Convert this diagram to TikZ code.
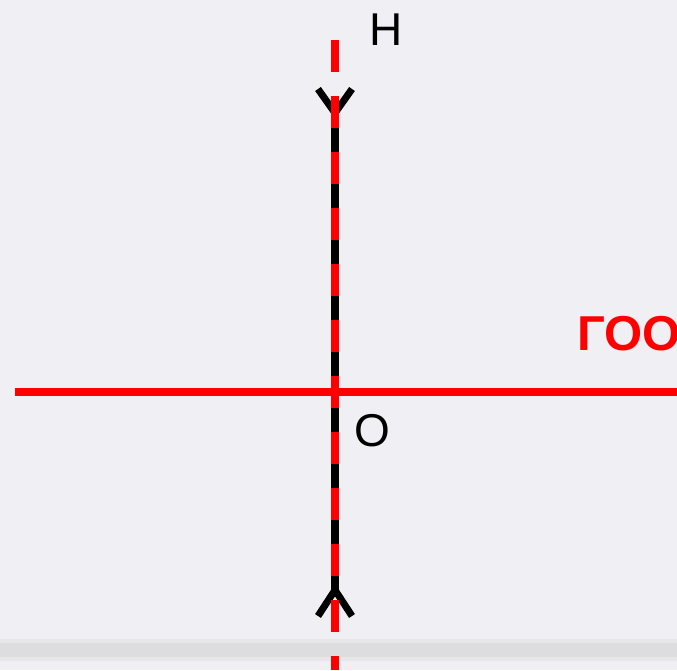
\documentclass[tikz,border=0pt]{standalone}
\usepackage{fontspec}
\setmainfont{Liberation Sans}
\definecolor{bg}{RGB}{240,239,244}
\definecolor{band}{RGB}{221,221,224}
\definecolor{bandl}{RGB}{231,231,234}
\definecolor{myred}{RGB}{255,0,0}
\begin{document}
\begin{tikzpicture}[x=1pt,y=-1pt,
  axisline/.style={myred, line width=8pt},
  normline/.style={black, line width=8pt},
  armline/.style={black, line width=7pt},
  dashline/.style={myred, line width=8pt, dash pattern=on 32pt off 24pt},
  lbl/.style={inner sep=0pt, font=\fontsize{46}{50}\selectfont}]
\useasboundingbox (0,0) rectangle (677,670);
\clip (0,0) rectangle (677,670);
\fill[bg] (0,0) rectangle (677,670);
\fill[bandl] (0,639) rectangle (677,661);
\fill[band] (0,643) rectangle (677,657);
% coordinates
\coordinate (Vtop) at (335,40);
\coordinate (Vbot) at (335,670);
\coordinate (Ttip) at (335,113);
\coordinate (Btip) at (335,590);
\coordinate (TL) at (318,89);
\coordinate (TR) at (352,89);
\coordinate (BL) at (318,616);
\coordinate (BR) at (352,616);
\coordinate (GL) at (15,392);
\coordinate (GR) at (677,392);
% normal
\draw[normline] (Ttip) -- (Btip);
\draw[armline] (TL) -- (Ttip) -- (TR);
\draw[armline] (BL) -- (Btip) -- (BR);
\draw[dashline] (Vtop) -- (Vbot);
% horizontal axis
\draw[axisline] (GL) -- (GR);
% labels
\node[lbl, anchor=base] (H) at (386.5,45) {H};
\node[lbl, anchor=base] (O) at (372,446) {O};
\node[inner sep=0pt, anchor=base west, text=myred, font=\fontsize{49}{54}\selectfont\bfseries] (G) at (577,350) {ГОО};
\end{tikzpicture}
\end{document}
